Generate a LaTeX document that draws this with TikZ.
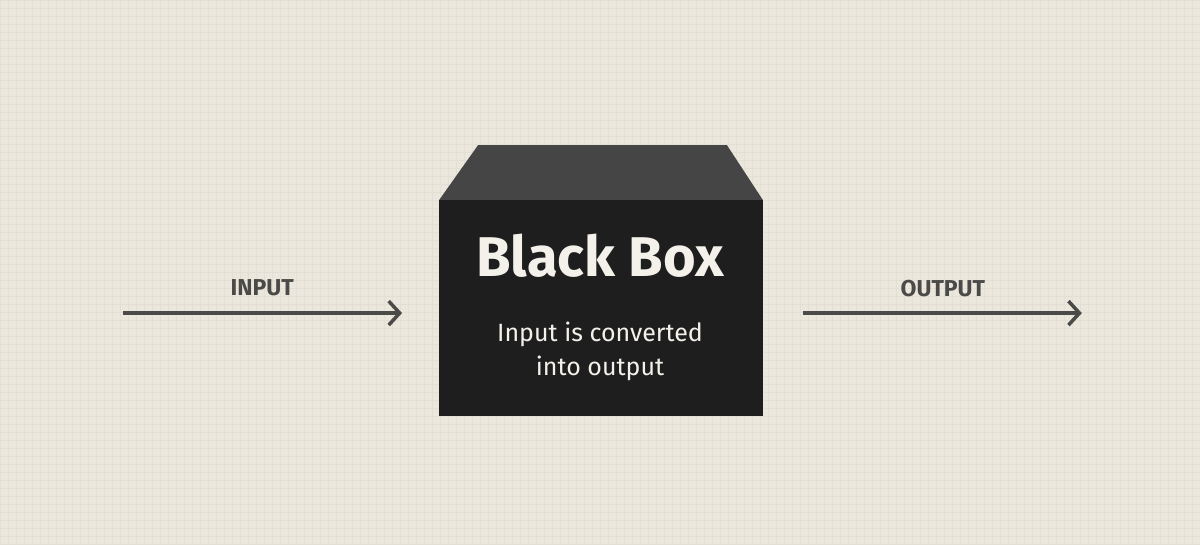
\documentclass[tikz,border=0pt]{standalone}
\usepackage{fontspec}
\setmainfont{Fira Sans}
\usetikzlibrary{arrows.meta}
\definecolor{bg}{HTML}{ECE7DD}
\definecolor{gridc}{HTML}{E4DFD4}
\definecolor{front}{HTML}{1E1E1E}
\definecolor{topc}{HTML}{454545}
\definecolor{arr}{HTML}{4A4A48}
\tikzset{
  flow/.style={draw=arr, line width=4.5pt, -{Straight Barb[length=11pt,width=24pt,line width=3.5pt]}},
  lbl/.style={text=arr, font=\fontsize{23}{26}\selectfont\bfseries},
}
\begin{document}
\begin{tikzpicture}[x=1pt,y=-1pt]
\fill[bg] (0,0) rectangle (1200,544);
\draw[gridc, line width=0.4pt, step=8pt] (0,0) grid (1200,544);
\useasboundingbox (0,0) rectangle (1200,544);
\fill[topc] (439,200) -- (478,145) -- (727,145) -- (763,200) -- cycle;
\node[fill=front, minimum width=324pt, minimum height=216pt, inner sep=0pt] (box) at (601,308) {};
\node[text=bg!60!white, font=\fontsize{56}{60}\selectfont\bfseries] (title) at (600,256) {Black Box};
\node[text=bg!60!white, font=\fontsize{25}{34}\selectfont, align=center] (sub) at (600,351) {Input is converted\\into output};
\coordinate (in1) at (123,313);
\coordinate (in2) at (402,313);
\coordinate (out1) at (803,313);
\coordinate (out2) at (1082,313);
\draw[flow] (in1) -- (in2);
\draw[flow] (out1) -- (out2);
\node[lbl] (inl) at (262,288) {INPUT};
\node[lbl] (outl) at (943,288) {OUTPUT};
\end{tikzpicture}
\end{document}
